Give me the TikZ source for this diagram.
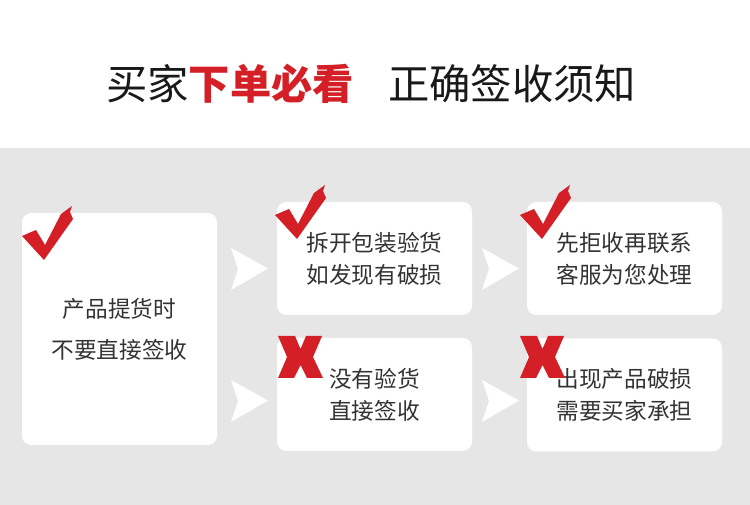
\documentclass[tikz,border=0pt]{standalone}
\usepackage{fontspec}
\setmainfont{Noto Sans CJK SC}
\newfontfamily\cjk{Noto Sans CJK SC}
\usepackage{tikz}
\definecolor{mred}{RGB}{213,31,38}
\definecolor{bgrey}{RGB}{230,230,230}
\definecolor{txt}{RGB}{51,51,51}

\begin{document}
\begin{tikzpicture}[x=0.75pt,y=-0.75pt]
		\tikzset{box/.style={fill=white,rounded corners=7pt,inner sep=0pt,
				minimum width=146.25pt,align=center,text=txt},
			small/.style={box,minimum height=84.75pt,font=\cjk\fontsize{17}{24}\selectfont},
			okmark/.pic={\fill[mred] (0,30) -- (14,24) -- (23,39) -- (39,8) -- (50,0)
				-- (48,6) -- (51,13) -- (22,54) -- cycle;},
			nomark/.pic={\fill[mred] (0,0) -- (17,0) -- (22.5,13) -- (28,0) -- (44,0)
				-- (35,21) -- (45,42) -- (29,42) -- (22.5,29) -- (16,42) -- (0,42)
				-- (9,21) -- cycle;},
			chev/.pic={\fill[white] (0,0) -- (37,20.5) -- (0,42) -- (7,21) -- cycle;}}
		\useasboundingbox (0,0) rectangle (750,505);
		\fill[white] (0,0) rectangle (750,148);
		\fill[bgrey] (0,148) rectangle (750,505);
		
		%Titulo
		\node (t1) at (230,84) [inner sep=0pt,text=black!90,font=\cjk\fontsize{31}{31}\selectfont]
			{买家{\bfseries\color{mred}下单必看}};
		\node (t2) at (512,84) [inner sep=0pt,text=black!90,font=\cjk\fontsize{31}{31}\selectfont] {正确签收须知};
		
		%Cajas
		\node (a) at (119.5,329) [box,minimum height=174pt,
			font=\cjk\fontsize{17}{30.75}\selectfont] {产品提货时\\不要直接签收};
		\node (b) at (374.5,258.5) [small] {拆开包装验货\\如发现有破损};
		\node (c) at (624.5,258.5) [small] {先拒收再联系\\客服为您处理};
		\node (d) at (374.5,394.5) [small] {没有验货\\直接签收};
		\node (e) at (624.5,395) [small] {出现产品破损\\需要买家承担};
		
		%Flechas
		\pic at (231,248) {chev};
		\pic at (231,380) {chev};
		\pic at (482,248) {chev};
		\pic at (482,380) {chev};
		
		%Marcas
		\pic at (22,206) {okmark};
		\pic at (275,185) {okmark};
		\pic at (520,185) {okmark};
		\pic at (278,336) {nomark};
		\pic at (520,336) {nomark};
	\end{tikzpicture}
\end{document}
